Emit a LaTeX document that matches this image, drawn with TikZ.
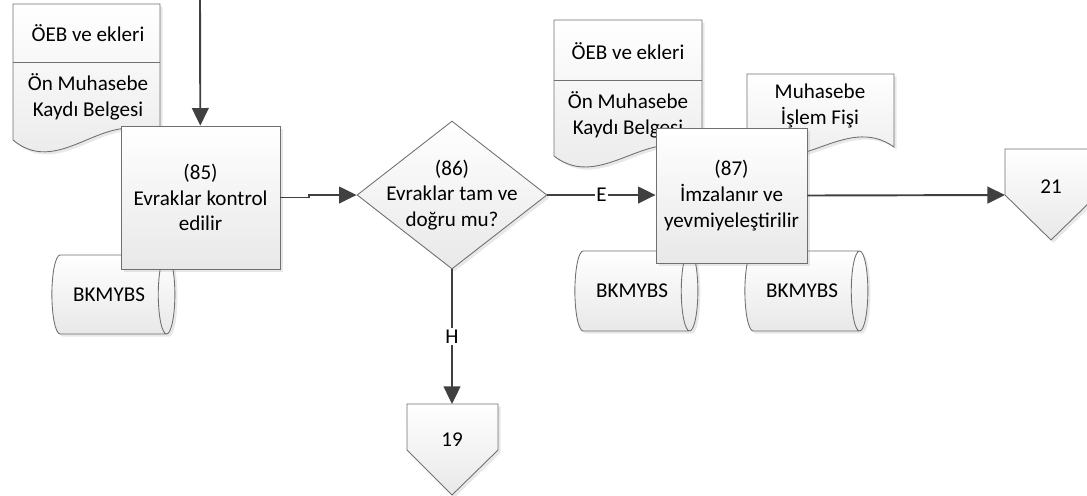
\documentclass[tikz,border=0pt]{standalone}
\usepackage{fontspec}
\setmainfont{Carlito}
\usetikzlibrary{arrows.meta,shapes.geometric,shadows}
\definecolor{linegray}{HTML}{404040}
\definecolor{bordergray}{HTML}{707070}
\tikzset{
  box/.style={draw=bordergray, line width=0.5pt, top color=white, bottom color=black!9,
    drop shadow={opacity=0.18, shadow xshift=1.5pt, shadow yshift=-1.5pt}},
  task/.style={box, rectangle, align=center, inner sep=0pt},
  decision/.style={box, diamond, inner sep=0pt},
  drum/.style={box, cylinder, aspect=1.2, inner sep=0pt},
  flow/.style={draw=linegray, line width=1.1pt, -{Triangle[length=10pt,width=9.5pt]}},
  lbl/.style={fill=white, inner sep=1pt},
}
\begin{document}
\begin{tikzpicture}[x=0.02cm, y=-0.02cm, font=\fontsize{12}{14.6}\selectfont]
  \useasboundingbox (0,0) rectangle (1087,495);

  % documents
  \draw[box] (13,4) -- (160,4) -- (160,140) .. controls (111,99) and (62,181) .. (13,140) -- cycle;
  \draw[bordergray, line width=0.5pt] (13,62) -- (160,62);
  \node (d1a) at (88,33) {ÖEB ve ekleri};
  \node[align=center] (d1b) at (88,97) {Ön Muhasebe\\Kaydı Belgesi};

  \draw[box] (554,20) -- (702,20) -- (702,156) .. controls (653,118) and (603,194) .. (554,156) -- cycle;
  \draw[bordergray, line width=0.5pt] (554,80) -- (702,80);
  \node (d2a) at (628,51) {ÖEB ve ekleri};
  \node[align=center] (d2b) at (628,115) {Ön Muhasebe\\Kaydı Belgesi};

  \draw[box] (747,74) -- (894,74) -- (894,147) .. controls (845,112) and (796,182) .. (747,147) -- cycle;
  \node[align=center] (d3) at (820,106) {Muhasebe\\İşlem Fişi};

  % databases
  \node[drum, minimum height=2.46cm, minimum width=1.58cm] (db1) at (109,294.5) {BKMYBS};
  \node[drum, minimum height=2.46cm, minimum width=1.6cm] (db2) at (632,291) {BKMYBS};
  \node[drum, minimum height=2.46cm, minimum width=1.6cm] (db3) at (802,291) {BKMYBS};

  % steps
  \node[task, minimum width=3.18cm, minimum height=2.86cm] (n85) at (200.5,197.5) {(85)\\Evraklar kontrol\\edilir};
  \node[decision, minimum width=3.8cm, minimum height=2.96cm,
    label={[align=center]center:{(86)\\Evraklar tam ve\\doğru mu?}}] (n86) at (452,195) {};
  \node[task, minimum width=3.02cm, minimum height=2.7cm] (n87) at (731.5,195.5) {(87)\\İmzalanır ve\\yevmiyeleştirilir};

  % off-page connectors
  \draw[box] (407,404) -- (498,404) -- (498,450) -- (452,495) -- (407,450) -- cycle;
  \node (n19) at (452,440) {19};
  \coordinate (in19) at (452,404);
  \draw[box] (1005,149) -- (1097,149) -- (1097,195) -- (1051,240) -- (1005,195) -- cycle;
  \node (n21) at (1051,187) {21};
  \coordinate (in21) at (1005,195);

  \coordinate (in85) at (200,0);
  \draw[flow] (in85) -- (n85);
  \draw[flow] (n85.east) -- ++(29,0) |- (n86.west);
  \draw[flow] (n86.east) -- node[lbl] {E} (n86.east -| n87.west);
  \draw[flow] (n87.east) -- (in21);
  \draw[flow] (n86.south) -- node[lbl] {H} (in19);
\end{tikzpicture}
\end{document}
